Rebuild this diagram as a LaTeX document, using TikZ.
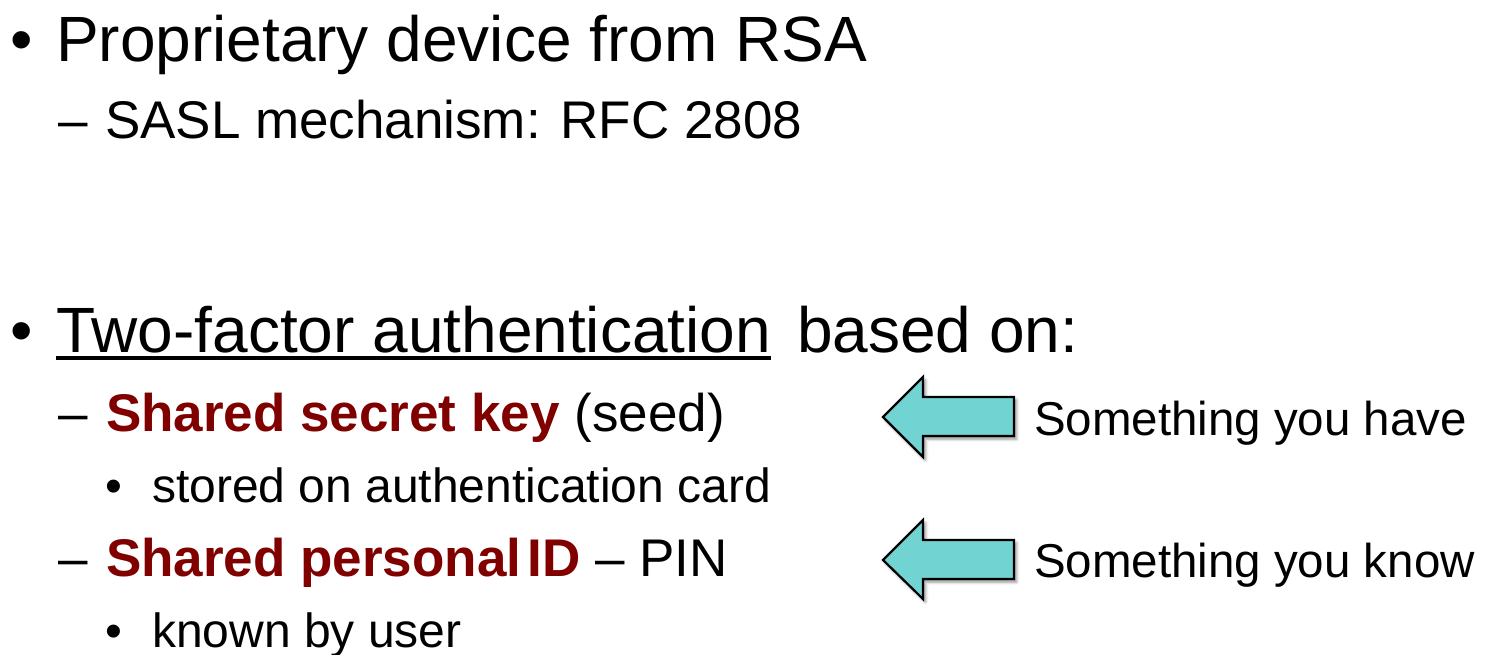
\documentclass[tikz,border=0pt]{standalone}
\usepackage{fontspec}
\setmainfont{Liberation Sans}
\usetikzlibrary{shadows.blur}
\definecolor{keyred}{RGB}{128,0,0}
\definecolor{arrowcyan}{RGB}{113,212,211}
\tikzset{
  txt/.style={anchor=base west, inner sep=0pt, outer sep=0pt},
  lvlone/.style={txt, font=\fontsize{64}{76}\selectfont},
  lvltwo/.style={txt, font=\fontsize{53}{64}\selectfont},
  lvlthree/.style={txt, font=\fontsize{48}{58}\selectfont},
  side/.style={txt, font=\fontsize{47.5}{57}\selectfont},
  hint/.style={fill=arrowcyan, draw=black, line width=2.2pt, line join=miter,
    blur shadow={shadow xshift=2.5pt, shadow yshift=-3pt, shadow blur radius=3pt, shadow opacity=45}},
}
\begin{document}
\begin{tikzpicture}[x=1pt, y=-1pt]
  \useasboundingbox (0,0) rectangle (1485,654);

  % first bullet
  \node[lvlone] (b1) at (10,61) {•};
  \node[lvlone] (l1) at (56,61) {Proprietary device from RSA};
  \node[lvltwo] (d1) at (58,138) {–};
  \node[lvltwo] (l2) at (105,138) {SASL mechanism: RFC 2808};

  % second bullet
  \node[lvlone] (b2) at (10,352) {•};
  \node[lvlone] (tfa) at (56,352) {Two-factor authentication};
  \node[lvlone] (based) at ([xshift=26pt]tfa.base east) {based on:};
  \draw[line width=4pt] ([yshift=-6pt]tfa.base west) -- ([yshift=-6pt]tfa.base east);

  \node[lvltwo] (d2) at (58,431) {–};
  \node[lvltwo] (l4) at (106,431) {\textcolor{keyred}{\bfseries Shared secret key} (seed)};
  \node[lvlthree] (b3) at (105,502) {•};
  \node[lvlthree] (l5) at (152,502) {stored on authentication card};
  \node[lvltwo] (d3) at (58,576) {–};
  \node[lvltwo] (l6) at (106,576) {\textcolor{keyred}{\bfseries Shared personal\hspace{0.12em}ID} – PIN};
  \node[lvlthree] (b4) at (105,647) {•};
  \node[lvlthree] (l7) at (152,647) {known by user};

  % pointers to the factor types
  \draw[hint] (883,417) -- (923,377) -- (923,397) -- (1014,397) -- (1014,436)
    -- (923,436) -- (923,457) -- cycle;
  \draw[hint] (883,560) -- (923,520) -- (923,540) -- (1014,540) -- (1014,579)
    -- (923,579) -- (923,599) -- cycle;
  \node[side] (have) at (1034,435) {Something you have};
  \node[side] (know) at (1034,577) {Something you know};
\end{tikzpicture}
\end{document}
